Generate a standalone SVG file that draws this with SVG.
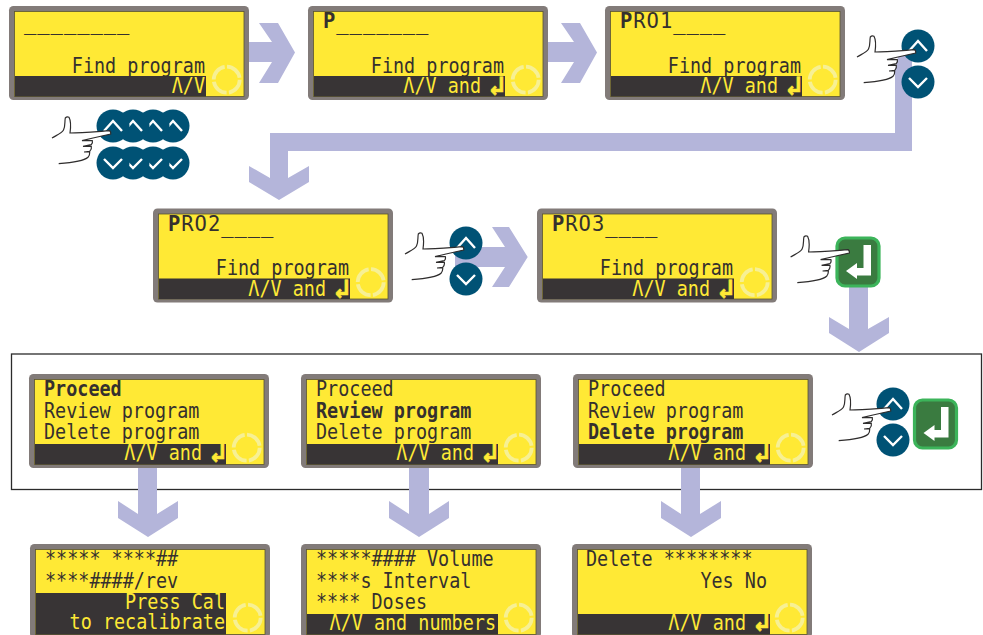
<svg xmlns="http://www.w3.org/2000/svg" xmlns:xlink="http://www.w3.org/1999/xlink" width="983" height="635" viewBox="0 0 983 635">
<style>
.t{font-family:"DejaVu Sans Mono","Liberation Mono",monospace;font-size:20.5px;fill:#35302e}
.y{fill:#ffe935}
.b{font-weight:700}
.e{text-anchor:end}
.w{letter-spacing:.96px}
.k{font-family:"DejaVu Sans Mono","Liberation Mono",monospace;font-size:27px;font-weight:700;fill:#ffe935;stroke:#ffe935;stroke-width:.5;text-anchor:end}
.arrow{fill:#b4b5da}
.btn{fill:#005275}
.chev{fill:none;stroke:#fff;stroke-width:2.4}
.ent{fill:#3a7b40;stroke:#3cb45a;stroke-width:3.2}
</style>
<defs>
<g id="lcd">
<rect width="240" height="94" rx="4.5" fill="#827b79"/>
<rect x="5.5" y="5.5" width="229.5" height="85" fill="#ffe935" stroke="#5b5530" stroke-width="0.8"/>
<circle cx="217.7" cy="73.7" r="13" fill="none" stroke="#f7f094" stroke-width="3.8" stroke-dasharray="18 2.4"/>
</g>
<path id="ca" class="chev" d="M-9 5L0-5L9 5"/>
<path id="cv" class="chev" d="M-9-4L0 5L9-4"/>
<g id="hand">
<path fill="#fff" d="M-50 4.3C-47 1-48-4-47.7-9L-44-9.7C-42-7-42-2-43 6C-32 6-15 4.500-3.300 3.700L-2.300 7L-20 11L-20.700 13.700L-21.700 17.700L-21.700 19.300L-23.300 24.300L-23.300 25L-25 30.300C-28 33-38 35.500-54.300 36.700L-50 10Z"/>
<path fill="none" stroke="#2f2d2d" stroke-width="1.200" d="M-61 11C-56 8-51 6-49.500 3C-47.500-1-48.500-5-47.700-9Q-46-11-44-9.700C-42-6-42-1-43 6C-32 6-15 4.500-3.300 3.700Q-1.800 5-2.300 7L-20 11L-31 13.700L-20.700 13.700Q-20 16-21.700 17.700L-30 19.300L-21.700 19.300Q-21 22-23.300 24.300L-29 25L-23.300 25Q-23 28-25 30.300C-28 33-38 35.500-54.300 36.700"/>
</g>
<g id="btns">
<circle class="btn" cy="36" r="16.500"/><use href="#cv" y="36"/>
<circle class="btn" r="16.500"/><use href="#ca"/>
</g>
<g id="enter">
<rect class="ent" x="-21" y="-24" width="42" height="48" rx="8"/>
<path fill="#fff" d="M13-17H5.500V6H-1V1L-12 9L-1 17V13.500H13Z"/>
</g>
</defs>

<g id="frame"><rect x="11.500" y="354" width="970" height="135.500" fill="none" stroke="#2b2b2b" stroke-width="1.300"/></g>

<g id="connectors">
<path class="arrow" d="M249 42H272L259 23H278L295 52.500L278 83H259L272 62H249Z"/>
<path class="arrow" d="M547 42H574L561 23H580L597 52.500L580 83H561L574 62H547Z"/>
<path class="arrow" d="M895 55H912V151H288V178L309 166V182L279 200L249 182V166L270 178V133H895Z"/>
<path class="arrow" d="M455 247H505L492 227H509L527.700 257L509 287H492L505 267H455Z"/>
<path class="arrow" d="M849 285H868V329L889 317V333L859 352L829 333V317L849 329Z"/>
<path class="arrow" d="M138 466H157V514L178 501V518L148 537L118 518V501L138 514Z"/>
<path class="arrow" d="M409 466H429V514L449 501V518L419 537L389 518V501L409 514Z"/>
<path class="arrow" d="M681 466H700V514L721 501V518L691 537L661 518V501L681 514Z"/>
</g>

<g id="lcd1" transform="translate(9 6)"><use href="#lcd"/><rect x="6" y="70" width="191" height="20.500" fill="#383435"/>
<text class="t w" x="15" y="24">________</text>
<text class="t e" x="196" y="66.500" textLength="133.200" lengthAdjust="spacingAndGlyphs">Find program</text>
<text class="t y e" x="196" y="87" textLength="33.300" lengthAdjust="spacingAndGlyphs">Λ/V</text></g>

<g id="lcd2" transform="translate(308 6)"><use href="#lcd"/><rect x="6" y="70" width="191" height="20.500" fill="#383435"/>
<text class="t w" x="15" y="22"><tspan class="b">P</tspan><tspan dy="2">_______</tspan></text>
<text class="t e" x="196" y="66.500" textLength="133.200" lengthAdjust="spacingAndGlyphs">Find program</text>
<text class="t y e" x="173" y="87" textLength="77.700" lengthAdjust="spacingAndGlyphs">Λ/V and</text><text class="k" x="197" y="89">↲</text></g>

<g id="lcd3" transform="translate(605 6)"><use href="#lcd"/><rect x="6" y="70" width="191" height="20.500" fill="#383435"/>
<text class="t w" x="15" y="22"><tspan class="b">P</tspan>RO1<tspan dy="2">____</tspan></text>
<text class="t e" x="196" y="66.500" textLength="133.200" lengthAdjust="spacingAndGlyphs">Find program</text>
<text class="t y e" x="173" y="87" textLength="77.700" lengthAdjust="spacingAndGlyphs">Λ/V and</text><text class="k" x="197" y="89">↲</text></g>

<g id="lcd4" transform="translate(153 208.500)"><use href="#lcd"/><rect x="6" y="70" width="191" height="20.500" fill="#383435"/>
<text class="t w" x="15" y="22"><tspan class="b">P</tspan>RO2<tspan dy="2">____</tspan></text>
<text class="t e" x="196" y="66.500" textLength="133.200" lengthAdjust="spacingAndGlyphs">Find program</text>
<text class="t y e" x="173" y="87" textLength="77.700" lengthAdjust="spacingAndGlyphs">Λ/V and</text><text class="k" x="197" y="89">↲</text></g>

<g id="lcd5" transform="translate(537 208.500)"><use href="#lcd"/><rect x="6" y="70" width="191" height="20.500" fill="#383435"/>
<text class="t w" x="15" y="22"><tspan class="b">P</tspan>RO3<tspan dy="2">____</tspan></text>
<text class="t e" x="196" y="66.500" textLength="133.200" lengthAdjust="spacingAndGlyphs">Find program</text>
<text class="t y e" x="173" y="87" textLength="77.700" lengthAdjust="spacingAndGlyphs">Λ/V and</text><text class="k" x="197" y="89">↲</text></g>

<g id="lcd6" transform="translate(29 374)"><use href="#lcd"/><rect x="6" y="70" width="191" height="20.500" fill="#383435"/>
<text class="t b" x="15" y="22" textLength="77.700" lengthAdjust="spacingAndGlyphs">Proceed</text>
<text class="t" x="15" y="43.500" textLength="155.400" lengthAdjust="spacingAndGlyphs">Review program</text>
<text class="t" x="15" y="65" textLength="155.400" lengthAdjust="spacingAndGlyphs">Delete program</text>
<text class="t y e" x="173" y="86" textLength="77.700" lengthAdjust="spacingAndGlyphs">Λ/V and</text><text class="k" x="197" y="88">↲</text></g>

<g id="lcd7" transform="translate(301 374)"><use href="#lcd"/><rect x="6" y="70" width="191" height="20.500" fill="#383435"/>
<text class="t" x="15" y="22" textLength="77.700" lengthAdjust="spacingAndGlyphs">Proceed</text>
<text class="t b" x="15" y="43.500" textLength="155.400" lengthAdjust="spacingAndGlyphs">Review program</text>
<text class="t" x="15" y="65" textLength="155.400" lengthAdjust="spacingAndGlyphs">Delete program</text>
<text class="t y e" x="173" y="86" textLength="77.700" lengthAdjust="spacingAndGlyphs">Λ/V and</text><text class="k" x="197" y="88">↲</text></g>

<g id="lcd8" transform="translate(573 374)"><use href="#lcd"/><rect x="6" y="70" width="191" height="20.500" fill="#383435"/>
<text class="t" x="15" y="22" textLength="77.700" lengthAdjust="spacingAndGlyphs">Proceed</text>
<text class="t" x="15" y="43.500" textLength="155.400" lengthAdjust="spacingAndGlyphs">Review program</text>
<text class="t b" x="15" y="65" textLength="155.400" lengthAdjust="spacingAndGlyphs">Delete program</text>
<text class="t y e" x="173" y="86" textLength="77.700" lengthAdjust="spacingAndGlyphs">Λ/V and</text><text class="k" x="197" y="88">↲</text></g>

<g id="lcd9" transform="translate(30 544)"><use href="#lcd"/><rect x="6" y="49" width="190" height="41.500" fill="#383435"/>
<text class="t" x="15" y="22" textLength="133.200" lengthAdjust="spacingAndGlyphs">***** ****##</text>
<text class="t" x="15" y="43.500" textLength="133.200" lengthAdjust="spacingAndGlyphs">****####/rev</text>
<text class="t y e" x="195" y="65" textLength="99.900" lengthAdjust="spacingAndGlyphs">Press Cal</text>
<text class="t y e" x="195" y="85" textLength="155.400" lengthAdjust="spacingAndGlyphs">to recalibrate</text></g>

<g id="lcd10" transform="translate(301 544)"><use href="#lcd"/><rect x="6" y="70" width="191" height="20.500" fill="#383435"/>
<text class="t" x="15" y="22" textLength="177.600" lengthAdjust="spacingAndGlyphs">*****#### Volume</text>
<text class="t" x="15" y="44" textLength="155.400" lengthAdjust="spacingAndGlyphs">****s Interval</text>
<text class="t" x="15" y="65" textLength="111" lengthAdjust="spacingAndGlyphs">**** Doses</text>
<text class="t y e" x="195" y="86" textLength="166.500" lengthAdjust="spacingAndGlyphs">Λ/V and numbers</text></g>

<g id="lcd11" transform="translate(572 544)"><use href="#lcd"/><rect x="6" y="70" width="192" height="20.500" fill="#383435"/>
<text class="t" x="14" y="22" textLength="166.500" lengthAdjust="spacingAndGlyphs">Delete ********</text>
<text class="t e" x="195" y="44" textLength="66.600" lengthAdjust="spacingAndGlyphs">Yes No</text>
<text class="t y e" x="174" y="86" textLength="77.700" lengthAdjust="spacingAndGlyphs">Λ/V and</text><text class="k" x="198" y="87">↲</text></g>

<g id="keys-multi">
<circle class="btn" cx="173" cy="126" r="16.500"/><use href="#ca" x="173" y="126"/>
<circle class="btn" cx="153" cy="126" r="16.500"/><use href="#ca" x="153" y="126"/>
<circle class="btn" cx="133" cy="126" r="16.500"/><use href="#ca" x="133" y="126"/>
<circle class="btn" cx="113" cy="126" r="16.500"/><use href="#ca" x="113" y="126"/>
<circle class="btn" cx="173" cy="163" r="16.500"/><use href="#cv" x="173" y="163"/>
<circle class="btn" cx="153" cy="163" r="16.500"/><use href="#cv" x="153" y="163"/>
<circle class="btn" cx="133" cy="163" r="16.500"/><use href="#cv" x="133" y="163"/>
<circle class="btn" cx="113" cy="163" r="16.500"/><use href="#cv" x="113" y="163"/>
<use href="#hand" x="113" y="127"/>
</g>
<g id="keys-a"><use href="#btns" x="918" y="46"/><use href="#hand" x="918" y="46"/></g>
<g id="keys-b"><use href="#btns" x="466" y="243"/><use href="#hand" x="466" y="243"/></g>
<g id="keys-c"><use href="#enter" x="858" y="262"/><use href="#hand" x="851.600" y="246"/></g>
<g id="keys-d"><use href="#enter" x="935.500" y="424"/><use href="#btns" x="893" y="404"/><use href="#hand" x="893" y="404"/></g>
</svg>
